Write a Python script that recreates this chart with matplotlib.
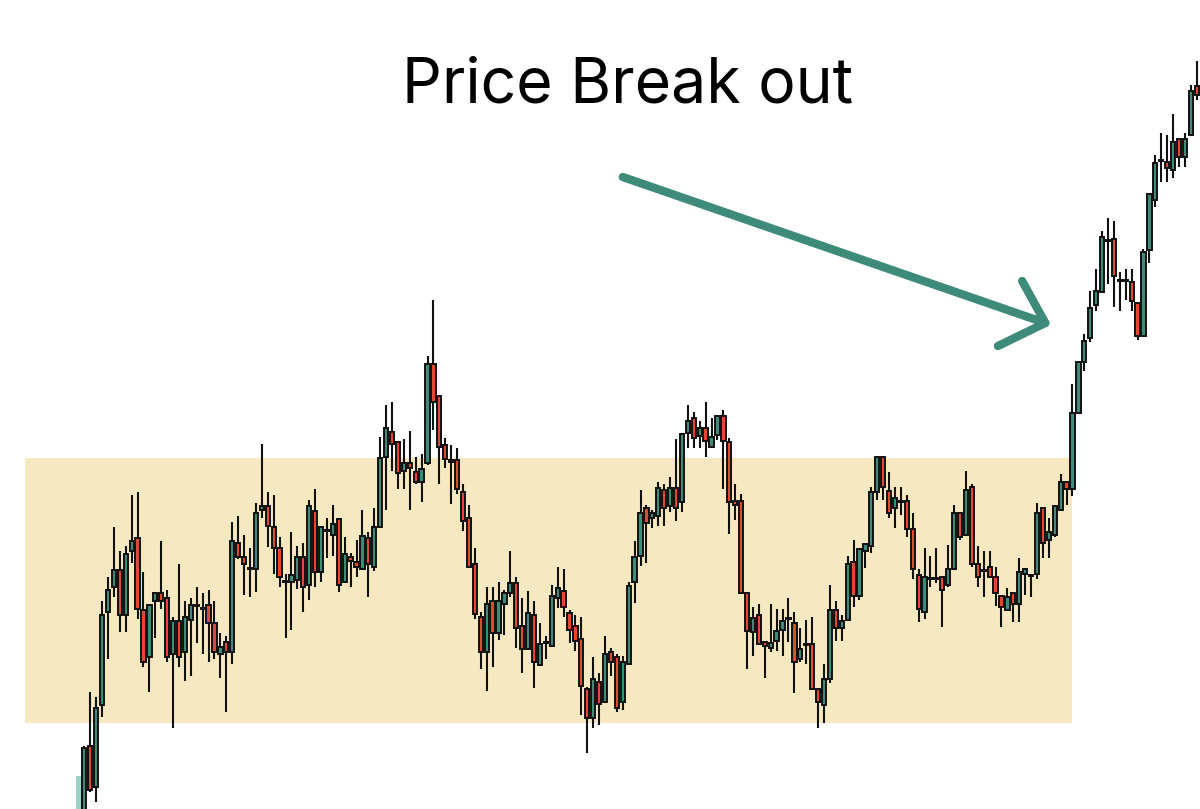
import matplotlib
matplotlib.use("Agg")
import matplotlib.pyplot as plt
import numpy as np

# candle OHLC (index 0 is the faded, partly hidden candle at the left)
opens = [188, 188, 254, 213, 295, 388, 413, 430, 385, 449, 462, 390, 343, 399, 407, 402, 346, 379, 348, 380,
         394, 392, 395, 377, 346, 358, 348, 457, 443, 432, 431, 490, 494, 473, 452, 418, 418, 420, 443, 415,
         489, 428, 469, 465, 481, 418, 443, 438, 431, 462, 433, 473, 543, 568, 558, 529, 537, 528, 518, 537,
         636, 604, 555, 540, 540, 508, 482, 436, 383, 348, 399, 367, 396, 407, 417, 374, 351, 385, 335, 357,
         354, 402, 409, 387, 374, 361, 311, 282, 318, 298, 348, 343, 298, 336, 418, 444, 492, 482, 484, 510,
         494, 512, 498, 567, 582, 564, 572, 553, 565, 584, 558, 499, 499, 407, 368, 385, 358, 352, 359, 370,
         381, 377, 341, 355, 356, 311, 295, 321, 390, 372, 380, 438, 404, 449, 454, 508, 543, 509, 492, 498,
         499, 471, 425, 388, 421, 421, 423, 415, 431, 487, 465, 513, 436, 429, 433, 423, 404, 390, 407, 396,
         426, 424, 426, 492, 460, 465, 490, 518, 511, 587, 638, 662, 695, 708, 760, 761, 720, 720, 718, 697,
         664, 750, 800, 840, 838, 830, 861, 843, 865, 914]
highs = [224, 254, 308, 303, 399, 423, 473, 449, 454, 505, 508, 428, 395, 407, 459, 410, 383, 436, 399, 402,
         413, 407, 410, 399, 367, 364, 478, 484, 465, 452, 497, 556, 508, 505, 463, 426, 468, 454, 457, 500,
         511, 473, 482, 495, 481, 463, 447, 460, 490, 468, 492, 563, 595, 598, 558, 561, 569, 543, 546, 644,
         700, 604, 562, 555, 552, 516, 495, 452, 388, 413, 413, 418, 410, 449, 423, 402, 409, 399, 377, 364,
         415, 433, 431, 390, 385, 383, 313, 343, 327, 364, 352, 346, 344, 418, 459, 510, 495, 490, 518, 516,
         523, 561, 566, 595, 588, 579, 598, 582, 584, 590, 562, 516, 506, 407, 393, 396, 358, 396, 391, 391,
         402, 388, 372, 380, 383, 311, 336, 415, 399, 385, 444, 460, 451, 456, 513, 544, 544, 528, 513, 513,
         505, 487, 431, 452, 444, 452, 424, 455, 495, 487, 529, 516, 454, 449, 449, 433, 404, 412, 407, 442,
         432, 424, 497, 492, 482, 494, 526, 518, 616, 638, 666, 709, 731, 769, 782, 779, 728, 731, 731, 697,
         751, 806, 845, 867, 865, 886, 861, 867, 915, 939]
lows = [188, 188, 208, 198, 283, 341, 403, 368, 368, 437, 381, 333, 308, 362, 391, 338, 272, 333, 319, 324,
        357, 346, 338, 341, 322, 288, 336, 441, 405, 403, 408, 482, 453, 426, 413, 362, 370, 411, 388, 400,
        413, 418, 442, 444, 408, 418, 413, 423, 431, 403, 429, 472, 490, 529, 511, 511, 490, 516, 498, 535,
        570, 516, 532, 496, 506, 469, 433, 381, 331, 309, 333, 360, 365, 403, 352, 327, 351, 312, 334, 341,
        354, 392, 383, 357, 349, 285, 247, 272, 275, 298, 324, 288, 290, 336, 397, 434, 437, 472, 474, 474,
        488, 479, 488, 552, 552, 552, 543, 553, 560, 511, 466, 480, 406, 331, 344, 355, 322, 348, 349, 344,
        358, 307, 338, 336, 311, 272, 277, 317, 359, 359, 380, 393, 400, 432, 447, 500, 500, 482, 472, 485,
        463, 421, 378, 381, 413, 417, 373, 413, 431, 460, 465, 433, 413, 403, 423, 394, 373, 389, 378, 378,
        405, 403, 421, 442, 442, 463, 490, 495, 504, 586, 629, 658, 689, 707, 716, 693, 689, 700, 689, 660,
        664, 737, 793, 818, 818, 822, 833, 833, 864, 900]
closes = [224, 252, 210, 292, 385, 410, 430, 385, 446, 459, 391, 338, 395, 407, 399, 343, 379, 343, 383, 395,
          395, 391, 377, 348, 353, 348, 459, 443, 436, 431, 487, 494, 474, 452, 423, 419, 425, 443, 413, 494,
          428, 473, 470, 476, 415, 446, 439, 433, 464, 436, 473, 542, 572, 556, 527, 537, 532, 518, 531, 636,
          598, 553, 541, 538, 511, 479, 433, 386, 348, 396, 367, 399, 407, 417, 372, 351, 387, 338, 356, 358,
          404, 412, 393, 370, 359, 314, 282, 321, 296, 346, 338, 292, 338, 414, 443, 487, 477, 487, 512, 492,
          512, 492, 566, 579, 562, 572, 559, 563, 584, 559, 498, 495, 407, 369, 382, 356, 354, 357, 369, 379,
          382, 338, 351, 356, 311, 298, 321, 390, 372, 379, 436, 404, 451, 456, 508, 543, 513, 487, 502, 499,
          471, 431, 391, 423, 422, 422, 410, 431, 487, 463, 510, 436, 423, 430, 423, 407, 393, 403, 396, 428,
          431, 425, 487, 457, 468, 494, 518, 511, 587, 638, 659, 692, 709, 763, 759, 724, 719, 719, 699, 664,
          748, 806, 837, 839, 832, 858, 843, 861, 909, 905]

# consolidation zone and annotation
zone_low, zone_high = 277, 542
zone_start, zone_end = -9.0, 167.9
title = "Price Break out"
arrow_tail = (92.0, 823)
arrow_tip = (163.4, 677)
arrow_arms = [(159.5, 719), (155.4, 654)]

up_col = "#3d8b78"
down_col = "#e04a33"
zone_col = "#f6e9c1"

fig = plt.figure(figsize=(12, 8.09), dpi=100)
ax = fig.add_axes([0, 0, 1, 1])

ax.add_patch(plt.Rectangle((zone_start, zone_low), zone_end - zone_start, zone_high - zone_low,
                           color=zone_col, lw=0, zorder=0))

o = np.array(opens, float)
c = np.array(closes, float)
idx = np.arange(len(o))
cols = [up_col if cc >= oo else down_col for oo, cc in zip(o, c)]

# faded first candle
ax.bar(idx[0], c[0] - o[0], bottom=o[0], width=0.72, color="#9fcfc6", lw=0, zorder=2)

ax.vlines(idx[1:], np.array(lows)[1:], np.array(highs)[1:], color="#111111", lw=1.5, zorder=2)
ax.bar(idx[1:], np.abs(c - o)[1:], bottom=np.minimum(o, c)[1:], width=0.72,
       color=cols[1:], edgecolor="#111111", linewidth=1.4, zorder=3)

ax.plot([arrow_tail[0], arrow_tip[0]], [arrow_tail[1], arrow_tip[1]], color=up_col, lw=6,
        solid_capstyle="round", zorder=4)
ax.plot([arrow_arms[0][0], arrow_tip[0], arrow_arms[1][0]],
        [arrow_arms[0][1], arrow_tip[1], arrow_arms[1][1]], color=up_col, lw=6,
        solid_capstyle="round", solid_joinstyle="round", zorder=4)

fig.text(0.523, 0.873, title, fontsize=45, family=["Inter", "DejaVu Sans"], ha="center", va="baseline")

ax.set_xlim(-13.25, 189.55)
ax.set_ylim(191, 1000)
ax.axis("off")

plt.savefig("out.png", dpi=100)
